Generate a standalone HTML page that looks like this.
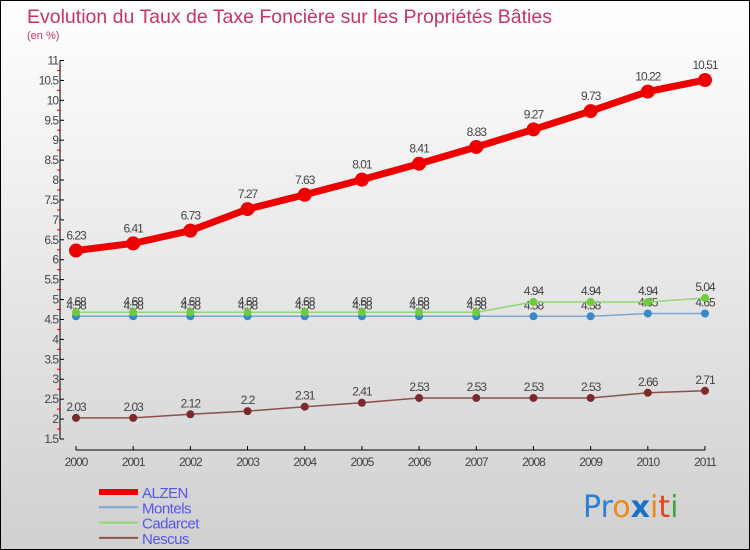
<!DOCTYPE html>
<html><head><meta charset="utf-8"><style>
body{margin:0;width:750px;height:550px;overflow:hidden}
svg{display:block;font-family:"Liberation Sans",sans-serif}
</style></head><body>
<svg id="chart" width="750" height="550">
<defs><linearGradient id="bg" x1="0" y1="0" x2="0" y2="1"><stop offset="0" stop-color="#ffffff"/><stop offset="1" stop-color="#d0d0d0"/></linearGradient></defs>
<rect x="0.5" y="0.5" width="749" height="549" fill="url(#bg)" stroke="#000"/>
<text x="27" y="23" font-size="19.5" fill="#c33562">Evolution du Taux de Taxe Foncière sur les Propriétés Bâties</text>
<text x="27" y="39" font-size="11" fill="#c33562">(en %)</text>
<g id="axes"></g><g id="series"></g><g id="legend"></g>
<text x="583" y="517" font-size="30" font-family="DejaVu Sans, sans-serif"><tspan fill="#2a7fd0">Pr</tspan><tspan fill="#e98a1a">o</tspan><tspan fill="#1a6fc8" font-weight="bold">x</tspan><tspan fill="#e98a1a">i</tspan><tspan fill="#e3421a">t</tspan><tspan fill="#3aa83a">i</tspan></text>
</svg>
<script>
const years=[2000,2001,2002,2003,2004,2005,2006,2007,2008,2009,2010,2011];
const alzen=[6.23,6.41,6.73,7.27,7.63,8.01,8.41,8.83,9.27,9.73,10.22,10.51];
const montels=[4.58,4.58,4.58,4.58,4.58,4.58,4.58,4.58,4.58,4.58,4.65,4.65];
const cadarcet=[4.68,4.68,4.68,4.68,4.68,4.68,4.68,4.68,4.94,4.94,4.94,5.04];
const nescus=[2.03,2.03,2.12,2.2,2.31,2.41,2.53,2.53,2.53,2.53,2.66,2.71];
const yTicks=[1.5,2,2.5,3,3.5,4,4.5,5,5.5,6,6.5,7,7.5,8,8.5,9,9.5,10,10.5,11];
const NS="http://www.w3.org/2000/svg";
const x=i=>76+i*(705-76)/(years.length-1);
const y=v=>439-(v-1.5)*(439-60.5)/9.5;
function mk(p,t,a){const e=document.createElementNS(NS,t);for(const k in a)e.setAttribute(k,a[k]);p.appendChild(e);return e;}
const ax=document.getElementById('axes');
let l=mk(ax,'line',{x1:60,y1:y(11),x2:60,y2:y(1.5),stroke:'#000'});


l=mk(ax,'line',{x1:x(0),y1:450,x2:x(11),y2:450,stroke:'#000'});


yTicks.forEach((v,i)=>{
  mk(ax,'line',{x1:60,y1:y(v),x2:64,y2:y(v),stroke:'#000'});
  if(i<yTicks.length-1)mk(ax,'line',{x1:57,y1:y(v+0.25),x2:61,y2:y(v+0.25),stroke:'#e00'});
  const t=mk(ax,'text',{x:58,y:y(v)+4,'font-size':12,fill:'#444','text-anchor':'end','letter-spacing':'-1'});
  t.textContent=v;
  
  
});
years.forEach((yr,i)=>{
  mk(ax,'line',{x1:x(i),y1:446,x2:x(i),y2:450,stroke:'#000'});
  const t=mk(ax,'text',{x:x(i),y:466,'font-size':12,fill:'#444','text-anchor':'middle','letter-spacing':'-1'});
  t.textContent=yr;
  
  
});
const sg=document.getElementById('series');
const series=[
 {name:'nescus',data:nescus,color:'#7a2a2a',line:'#8b5050',w:1.5,r:4},
 {name:'montels',data:montels,color:'#3a88c8',line:'#7aa8d0',w:1.5,r:4},
 {name:'cadarcet',data:cadarcet,color:'#6ccc3c',line:'#90d870',w:1.5,r:4},
 {name:'alzen',data:alzen,color:'#ee0000',line:'#ee0000',w:7,r:7}
];
series.forEach(s=>{
  const g=mk(sg,'g',{});
  
  
  const pl=mk(g,'polyline',{points:s.data.map((v,i)=>x(i)+','+y(v)).join(' '),fill:'none',stroke:s.line,'stroke-width':s.w,'stroke-linejoin':'round'});
  
  
  s.data.forEach((v,i)=>{
    const c=mk(g,'circle',{cx:x(i),cy:y(v),r:s.r,fill:s.color});
    
    
    const t=mk(g,'text',{x:x(i),y:y(v)-(s.name==='alzen'?11:7),'font-size':12,fill:'#444','text-anchor':'middle','letter-spacing':'-1'});
    t.textContent=v;
    
    
  });
});
const lg=document.getElementById('legend');
const leg=[['ALZEN','#ee0000',6],['Montels','#7aa8d0',2],['Cadarcet','#90d870',2],['Nescus','#8b5050',2]];
leg.forEach((e,i)=>{
  const yy=492+i*15.3;
  const g=mk(lg,'g',{});
  
  
  mk(g,'line',{x1:99,y1:yy,x2:138,y2:yy,stroke:e[1],'stroke-width':e[2]});
  const t=mk(g,'text',{x:142,y:yy+6,'font-size':15,fill:'#5555ee','letter-spacing':'-0.5'});
  t.textContent=e[0];
});
</script>
</body></html>
